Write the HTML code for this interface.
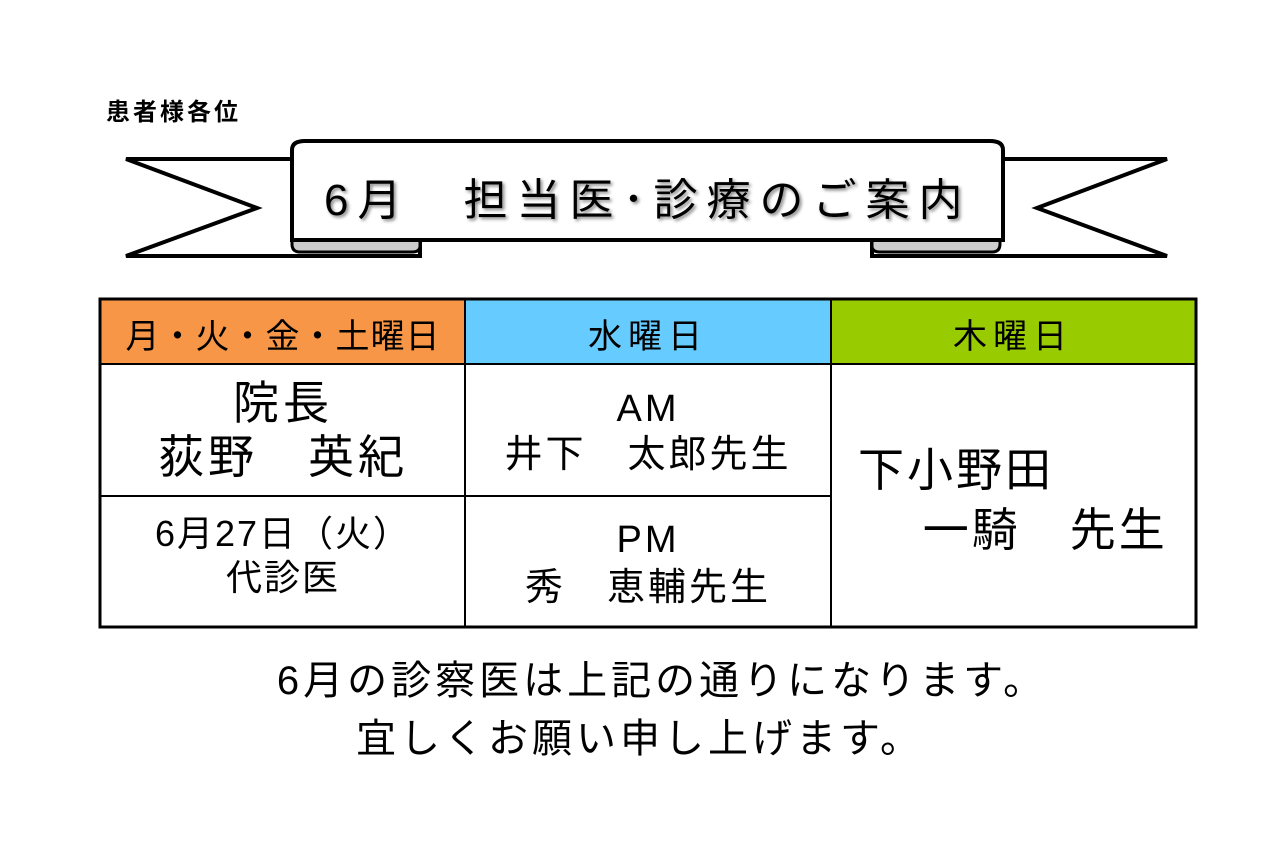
<!DOCTYPE html>
<html><head><meta charset="utf-8"><style>
body{margin:0;background:#fff;width:1280px;height:845px;position:relative;overflow:hidden;font-family:"Liberation Sans","Noto Sans CJK JP",sans-serif;color:#000}
.t{position:absolute;white-space:nowrap}
</style></head><body>
<div class="t" style="left:106px;top:92px;font-size:24px;font-weight:bold;letter-spacing:3px">患者様各位</div>
<svg width="1280" height="845" style="position:absolute;left:0;top:0">
<g stroke="#000" stroke-width="4" fill="#fff" stroke-linejoin="miter">
<polygon points="292,159 126,159 257,208 126,256 420,256 420,240 292,240"/>
<polygon points="1000,159 1167,159 1037,208 1167,256 872,256 872,240 1000,240"/>
<path d="M292,240 L292,244 Q292,252 300,252 L412,252 Q420,252 420,246 L420,240 Z" fill="#ccc" stroke-width="3"/>
<path d="M872,240 L872,246 Q872,252 880,252 L992,252 Q1000,252 1000,244 L1000,240 Z" fill="#ccc" stroke-width="3"/>
<path d="M292,240 L292,150 Q292,141 305,141 L990,141 Q1003,141 1003,150 L1003,240 Z"/>
</g>
<rect x="100" y="299" width="1096" height="328" fill="#fff"/>
<rect x="101" y="300" width="364" height="64" fill="#f79646"/>
<rect x="465" y="300" width="366" height="64" fill="#66ccff"/>
<rect x="831" y="300" width="364" height="64" fill="#99cc00"/>
<g stroke="#000" stroke-width="2">
<line x1="100" y1="364" x2="1196" y2="364"/>
<line x1="465" y1="299" x2="465" y2="627"/>
<line x1="831" y1="299" x2="831" y2="627"/>
<line x1="100" y1="496" x2="831" y2="496"/>
</g>
<rect x="100" y="299" width="1096" height="328" stroke="#000" stroke-width="3" fill="none"/>
</svg>
<div class="t" style="left:324px;top:164px;font-size:44px;letter-spacing:9px;text-shadow:2px 2px 3px #888">6月　担当医･診療のご案内</div>
<div class="t" style="left:101px;top:309px;width:364px;text-align:center;font-size:34px;letter-spacing:1px">月・火・金・土曜日</div>
<div class="t" style="left:465px;top:309px;width:366px;text-align:center;font-size:34px;letter-spacing:6px">水曜日</div>
<div class="t" style="left:831px;top:309px;width:364px;text-align:center;font-size:34px;letter-spacing:6px">木曜日</div>
<div class="t" style="left:101px;top:376px;width:364px;text-align:center;font-size:46px;line-height:54px;letter-spacing:4px">院長<br>荻野　英紀</div>
<div class="t" style="left:101px;top:512px;width:364px;text-align:center;font-size:36px;line-height:44px;letter-spacing:2px">6月27日（火）<br>代診医</div>
<div class="t" style="left:465px;top:386px;width:366px;text-align:center;font-size:38px;line-height:46px;letter-spacing:3px">AM<br>井下　太郎先生</div>
<div class="t" style="left:465px;top:516px;width:366px;text-align:center;font-size:38px;line-height:48px;letter-spacing:3px">PM<br>秀　恵輔先生</div>
<div class="t" style="left:858px;top:440px;font-size:46px;line-height:60px;letter-spacing:3px">下小野田<br>　 一騎　先生</div>
<div class="t" style="left:0;top:652px;width:1280px;text-align:center;font-size:40px;line-height:58px;letter-spacing:4px">　6月の診察医は上記の通りになります。<br>宜しくお願い申し上げます。</div>
</body></html>
